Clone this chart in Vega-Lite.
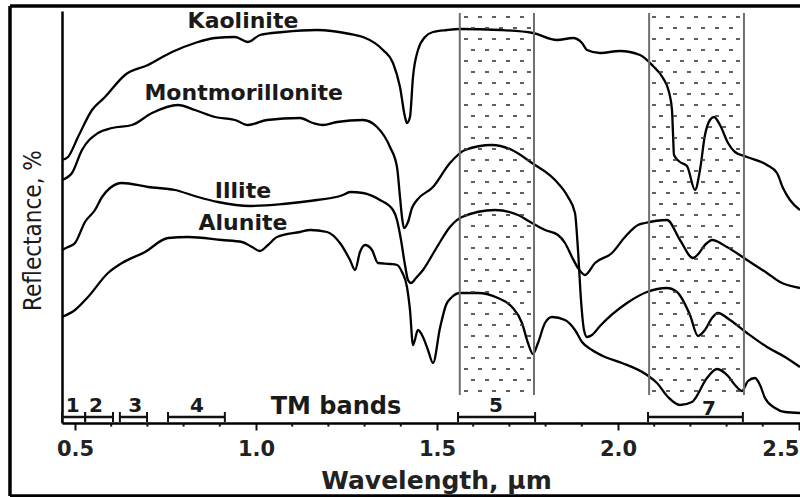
{
  "$schema": "https://vega.github.io/schema/vega-lite/v6.json",
  "width": 738,
  "height": 412,
  "padding": {"left": 62, "top": 11, "right": 0, "bottom": 74},
  "autosize": {"type": "none"},
  "background": "white",
  "config": {"view": {"stroke": null}, "axis": {"grid": false}},
  "datasets": {
    "spectra": [
      {"mineral":"Kaolinite","wavelength":0.4641,"reflectance":65.75},
      {"mineral":"Kaolinite","wavelength":0.4807,"reflectance":66.5},
      {"mineral":"Kaolinite","wavelength":0.5083,"reflectance":71.5},
      {"mineral":"Kaolinite","wavelength":0.547,"reflectance":78.25},
      {"mineral":"Kaolinite","wavelength":0.5829,"reflectance":81.5},
      {"mineral":"Kaolinite","wavelength":0.6381,"reflectance":87},
      {"mineral":"Kaolinite","wavelength":0.7017,"reflectance":89.5},
      {"mineral":"Kaolinite","wavelength":0.768,"reflectance":92.75},
      {"mineral":"Kaolinite","wavelength":0.8315,"reflectance":95},
      {"mineral":"Kaolinite","wavelength":0.8867,"reflectance":96.25},
      {"mineral":"Kaolinite","wavelength":0.942,"reflectance":96.5},
      {"mineral":"Kaolinite","wavelength":0.9779,"reflectance":95.25},
      {"mineral":"Kaolinite","wavelength":1.011,"reflectance":97},
      {"mineral":"Kaolinite","wavelength":1.0746,"reflectance":97.75},
      {"mineral":"Kaolinite","wavelength":1.1685,"reflectance":98.25},
      {"mineral":"Kaolinite","wavelength":1.2597,"reflectance":97.25},
      {"mineral":"Kaolinite","wavelength":1.2956,"reflectance":96.5},
      {"mineral":"Kaolinite","wavelength":1.3508,"reflectance":93.25},
      {"mineral":"Kaolinite","wavelength":1.3785,"reflectance":90},
      {"mineral":"Kaolinite","wavelength":1.3978,"reflectance":84},
      {"mineral":"Kaolinite","wavelength":1.4116,"reflectance":76.5},
      {"mineral":"Kaolinite","wavelength":1.4171,"reflectance":75},
      {"mineral":"Kaolinite","wavelength":1.4254,"reflectance":76.5},
      {"mineral":"Kaolinite","wavelength":1.4337,"reflectance":86.5},
      {"mineral":"Kaolinite","wavelength":1.4475,"reflectance":93.25},
      {"mineral":"Kaolinite","wavelength":1.4669,"reflectance":96.5},
      {"mineral":"Kaolinite","wavelength":1.489,"reflectance":97.75},
      {"mineral":"Kaolinite","wavelength":1.5276,"reflectance":98.25},
      {"mineral":"Kaolinite","wavelength":1.5635,"reflectance":98.5},
      {"mineral":"Kaolinite","wavelength":1.674,"reflectance":98.25},
      {"mineral":"Kaolinite","wavelength":1.7652,"reflectance":97.5},
      {"mineral":"Kaolinite","wavelength":1.8315,"reflectance":95.75},
      {"mineral":"Kaolinite","wavelength":1.8757,"reflectance":96.25},
      {"mineral":"Kaolinite","wavelength":1.9006,"reflectance":95},
      {"mineral":"Kaolinite","wavelength":1.9144,"reflectance":93.25},
      {"mineral":"Kaolinite","wavelength":1.9503,"reflectance":92.5},
      {"mineral":"Kaolinite","wavelength":2.0055,"reflectance":93},
      {"mineral":"Kaolinite","wavelength":2.0608,"reflectance":92},
      {"mineral":"Kaolinite","wavelength":2.0967,"reflectance":89.25},
      {"mineral":"Kaolinite","wavelength":2.1243,"reflectance":86.25},
      {"mineral":"Kaolinite","wavelength":2.1409,"reflectance":82.75},
      {"mineral":"Kaolinite","wavelength":2.1492,"reflectance":78.25},
      {"mineral":"Kaolinite","wavelength":2.1519,"reflectance":72.5},
      {"mineral":"Kaolinite","wavelength":2.1547,"reflectance":67},
      {"mineral":"Kaolinite","wavelength":2.1713,"reflectance":65.25},
      {"mineral":"Kaolinite","wavelength":2.1906,"reflectance":64.25},
      {"mineral":"Kaolinite","wavelength":2.2127,"reflectance":58.25},
      {"mineral":"Kaolinite","wavelength":2.2265,"reflectance":63.25},
      {"mineral":"Kaolinite","wavelength":2.2403,"reflectance":72},
      {"mineral":"Kaolinite","wavelength":2.2541,"reflectance":75.75},
      {"mineral":"Kaolinite","wavelength":2.2652,"reflectance":76.5},
      {"mineral":"Kaolinite","wavelength":2.2818,"reflectance":74.5},
      {"mineral":"Kaolinite","wavelength":2.3039,"reflectance":70},
      {"mineral":"Kaolinite","wavelength":2.3232,"reflectance":67.75},
      {"mineral":"Kaolinite","wavelength":2.3564,"reflectance":66.5},
      {"mineral":"Kaolinite","wavelength":2.4116,"reflectance":64.5},
      {"mineral":"Kaolinite","wavelength":2.4392,"reflectance":62.5},
      {"mineral":"Kaolinite","wavelength":2.4558,"reflectance":58.75},
      {"mineral":"Kaolinite","wavelength":2.4751,"reflectance":55.75},
      {"mineral":"Kaolinite","wavelength":2.5028,"reflectance":53.25},

      {"mineral":"Montmorillonite","wavelength":0.4641,"reflectance":60.75},
      {"mineral":"Montmorillonite","wavelength":0.4917,"reflectance":62.5},
      {"mineral":"Montmorillonite","wavelength":0.5193,"reflectance":68.25},
      {"mineral":"Montmorillonite","wavelength":0.5635,"reflectance":72.5},
      {"mineral":"Montmorillonite","wavelength":0.6022,"reflectance":73.75},
      {"mineral":"Montmorillonite","wavelength":0.6575,"reflectance":74.5},
      {"mineral":"Montmorillonite","wavelength":0.7127,"reflectance":77.5},
      {"mineral":"Montmorillonite","wavelength":0.7845,"reflectance":79.5},
      {"mineral":"Montmorillonite","wavelength":0.8315,"reflectance":78.25},
      {"mineral":"Montmorillonite","wavelength":0.8867,"reflectance":76.5},
      {"mineral":"Montmorillonite","wavelength":0.942,"reflectance":75.75},
      {"mineral":"Montmorillonite","wavelength":0.9779,"reflectance":74.5},
      {"mineral":"Montmorillonite","wavelength":1.0304,"reflectance":75.75},
      {"mineral":"Montmorillonite","wavelength":1.1215,"reflectance":76.25},
      {"mineral":"Montmorillonite","wavelength":1.1575,"reflectance":75},
      {"mineral":"Montmorillonite","wavelength":1.1851,"reflectance":74.5},
      {"mineral":"Montmorillonite","wavelength":1.2238,"reflectance":75.25},
      {"mineral":"Montmorillonite","wavelength":1.2956,"reflectance":75.75},
      {"mineral":"Montmorillonite","wavelength":1.3343,"reflectance":74},
      {"mineral":"Montmorillonite","wavelength":1.3702,"reflectance":69},
      {"mineral":"Montmorillonite","wavelength":1.3895,"reflectance":64},
      {"mineral":"Montmorillonite","wavelength":1.3978,"reflectance":56.5},
      {"mineral":"Montmorillonite","wavelength":1.4033,"reflectance":51.5},
      {"mineral":"Montmorillonite","wavelength":1.4088,"reflectance":48.75},
      {"mineral":"Montmorillonite","wavelength":1.4199,"reflectance":50.25},
      {"mineral":"Montmorillonite","wavelength":1.4309,"reflectance":53.75},
      {"mineral":"Montmorillonite","wavelength":1.4448,"reflectance":55.75},
      {"mineral":"Montmorillonite","wavelength":1.489,"reflectance":59},
      {"mineral":"Montmorillonite","wavelength":1.5359,"reflectance":65},
      {"mineral":"Montmorillonite","wavelength":1.5773,"reflectance":68.25},
      {"mineral":"Montmorillonite","wavelength":1.6519,"reflectance":69.5},
      {"mineral":"Montmorillonite","wavelength":1.7072,"reflectance":68.25},
      {"mineral":"Montmorillonite","wavelength":1.7624,"reflectance":65},
      {"mineral":"Montmorillonite","wavelength":1.826,"reflectance":60.75},
      {"mineral":"Montmorillonite","wavelength":1.8619,"reflectance":56.5},
      {"mineral":"Montmorillonite","wavelength":1.8812,"reflectance":52.5},
      {"mineral":"Montmorillonite","wavelength":1.8895,"reflectance":43.25},
      {"mineral":"Montmorillonite","wavelength":1.8978,"reflectance":30.75},
      {"mineral":"Montmorillonite","wavelength":1.9061,"reflectance":23.25},
      {"mineral":"Montmorillonite","wavelength":1.9144,"reflectance":21.5},
      {"mineral":"Montmorillonite","wavelength":1.9282,"reflectance":22},
      {"mineral":"Montmorillonite","wavelength":1.9503,"reflectance":24.25},
      {"mineral":"Montmorillonite","wavelength":2.0249,"reflectance":30},
      {"mineral":"Montmorillonite","wavelength":2.0801,"reflectance":32.75},
      {"mineral":"Montmorillonite","wavelength":2.1354,"reflectance":33.75},
      {"mineral":"Montmorillonite","wavelength":2.163,"reflectance":32.75},
      {"mineral":"Montmorillonite","wavelength":2.1989,"reflectance":27},
      {"mineral":"Montmorillonite","wavelength":2.221,"reflectance":21.75},
      {"mineral":"Montmorillonite","wavelength":2.2403,"reflectance":23.25},
      {"mineral":"Montmorillonite","wavelength":2.2597,"reflectance":26.25},
      {"mineral":"Montmorillonite","wavelength":2.2762,"reflectance":27.5},
      {"mineral":"Montmorillonite","wavelength":2.3094,"reflectance":25.75},
      {"mineral":"Montmorillonite","wavelength":2.3564,"reflectance":22.5},
      {"mineral":"Montmorillonite","wavelength":2.4116,"reflectance":19},
      {"mineral":"Montmorillonite","wavelength":2.4613,"reflectance":16.5},
      {"mineral":"Montmorillonite","wavelength":2.5028,"reflectance":14},

      {"mineral":"Illite","wavelength":0.4641,"reflectance":43.25},
      {"mineral":"Illite","wavelength":0.4807,"reflectance":44},
      {"mineral":"Illite","wavelength":0.5,"reflectance":45},
      {"mineral":"Illite","wavelength":0.5276,"reflectance":50.25},
      {"mineral":"Illite","wavelength":0.5552,"reflectance":53.25},
      {"mineral":"Illite","wavelength":0.5746,"reflectance":56.5},
      {"mineral":"Illite","wavelength":0.5967,"reflectance":58.75},
      {"mineral":"Illite","wavelength":0.6298,"reflectance":60},
      {"mineral":"Illite","wavelength":0.7017,"reflectance":59},
      {"mineral":"Illite","wavelength":0.7762,"reflectance":58.25},
      {"mineral":"Illite","wavelength":0.8398,"reflectance":56.5},
      {"mineral":"Illite","wavelength":0.895,"reflectance":55.25},
      {"mineral":"Illite","wavelength":0.9834,"reflectance":54.25},
      {"mineral":"Illite","wavelength":1.0746,"reflectance":54.75},
      {"mineral":"Illite","wavelength":1.1685,"reflectance":55.75},
      {"mineral":"Illite","wavelength":1.2403,"reflectance":57},
      {"mineral":"Illite","wavelength":1.2597,"reflectance":57.75},
      {"mineral":"Illite","wavelength":1.2956,"reflectance":57.5},
      {"mineral":"Illite","wavelength":1.3425,"reflectance":55.75},
      {"mineral":"Illite","wavelength":1.3785,"reflectance":53.25},
      {"mineral":"Illite","wavelength":1.3895,"reflectance":50.75},
      {"mineral":"Illite","wavelength":1.4006,"reflectance":45.75},
      {"mineral":"Illite","wavelength":1.4116,"reflectance":39.5},
      {"mineral":"Illite","wavelength":1.4199,"reflectance":35.75},
      {"mineral":"Illite","wavelength":1.4282,"reflectance":35},
      {"mineral":"Illite","wavelength":1.442,"reflectance":36.25},
      {"mineral":"Illite","wavelength":1.4613,"reflectance":38.25},
      {"mineral":"Illite","wavelength":1.5,"reflectance":44},
      {"mineral":"Illite","wavelength":1.5359,"reflectance":49},
      {"mineral":"Illite","wavelength":1.569,"reflectance":51.5},
      {"mineral":"Illite","wavelength":1.6602,"reflectance":53.25},
      {"mineral":"Illite","wavelength":1.7238,"reflectance":52},
      {"mineral":"Illite","wavelength":1.7624,"reflectance":50},
      {"mineral":"Illite","wavelength":1.7983,"reflectance":48.25},
      {"mineral":"Illite","wavelength":1.8343,"reflectance":47},
      {"mineral":"Illite","wavelength":1.8536,"reflectance":45},
      {"mineral":"Illite","wavelength":1.8729,"reflectance":41.5},
      {"mineral":"Illite","wavelength":1.8895,"reflectance":38.75},
      {"mineral":"Illite","wavelength":1.9088,"reflectance":37},
      {"mineral":"Illite","wavelength":1.9365,"reflectance":40},
      {"mineral":"Illite","wavelength":1.9834,"reflectance":42.5},
      {"mineral":"Illite","wavelength":2.0193,"reflectance":46.5},
      {"mineral":"Illite","wavelength":2.0552,"reflectance":49.5},
      {"mineral":"Illite","wavelength":2.0746,"reflectance":50},
      {"mineral":"Illite","wavelength":2.1354,"reflectance":50.75},
      {"mineral":"Illite","wavelength":2.1713,"reflectance":45.75},
      {"mineral":"Illite","wavelength":2.2072,"reflectance":41.25},
      {"mineral":"Illite","wavelength":2.2459,"reflectance":45},
      {"mineral":"Illite","wavelength":2.2597,"reflectance":45.75},
      {"mineral":"Illite","wavelength":2.3011,"reflectance":44},
      {"mineral":"Illite","wavelength":2.3564,"reflectance":40.75},
      {"mineral":"Illite","wavelength":2.4116,"reflectance":37.5},
      {"mineral":"Illite","wavelength":2.4475,"reflectance":35.25},
      {"mineral":"Illite","wavelength":2.5028,"reflectance":33.75},

      {"mineral":"Alunite","wavelength":0.4641,"reflectance":26.5},
      {"mineral":"Alunite","wavelength":0.5,"reflectance":28.25},
      {"mineral":"Alunite","wavelength":0.5359,"reflectance":31.5},
      {"mineral":"Alunite","wavelength":0.5912,"reflectance":37.5},
      {"mineral":"Alunite","wavelength":0.6298,"reflectance":40},
      {"mineral":"Alunite","wavelength":0.6934,"reflectance":42.75},
      {"mineral":"Alunite","wavelength":0.7569,"reflectance":46.25},
      {"mineral":"Alunite","wavelength":0.8122,"reflectance":46.5},
      {"mineral":"Alunite","wavelength":0.9061,"reflectance":45.75},
      {"mineral":"Alunite","wavelength":0.9613,"reflectance":45.25},
      {"mineral":"Alunite","wavelength":0.989,"reflectance":44},
      {"mineral":"Alunite","wavelength":1.011,"reflectance":43},
      {"mineral":"Alunite","wavelength":1.0331,"reflectance":44.5},
      {"mineral":"Alunite","wavelength":1.058,"reflectance":46.5},
      {"mineral":"Alunite","wavelength":1.1215,"reflectance":47.75},
      {"mineral":"Alunite","wavelength":1.1492,"reflectance":48.25},
      {"mineral":"Alunite","wavelength":1.1961,"reflectance":47.75},
      {"mineral":"Alunite","wavelength":1.232,"reflectance":45},
      {"mineral":"Alunite","wavelength":1.2597,"reflectance":40.75},
      {"mineral":"Alunite","wavelength":1.2735,"reflectance":38.25},
      {"mineral":"Alunite","wavelength":1.2873,"reflectance":42.75},
      {"mineral":"Alunite","wavelength":1.3011,"reflectance":44.5},
      {"mineral":"Alunite","wavelength":1.3204,"reflectance":43.25},
      {"mineral":"Alunite","wavelength":1.337,"reflectance":40},
      {"mineral":"Alunite","wavelength":1.3702,"reflectance":39.75},
      {"mineral":"Alunite","wavelength":1.3895,"reflectance":39.5},
      {"mineral":"Alunite","wavelength":1.4033,"reflectance":37.75},
      {"mineral":"Alunite","wavelength":1.4171,"reflectance":34},
      {"mineral":"Alunite","wavelength":1.4254,"reflectance":28.25},
      {"mineral":"Alunite","wavelength":1.4337,"reflectance":19.5},
      {"mineral":"Alunite","wavelength":1.4475,"reflectance":23.25},
      {"mineral":"Alunite","wavelength":1.4613,"reflectance":21.5},
      {"mineral":"Alunite","wavelength":1.4751,"reflectance":18.25},
      {"mineral":"Alunite","wavelength":1.489,"reflectance":15},
      {"mineral":"Alunite","wavelength":1.5083,"reflectance":23.75},
      {"mineral":"Alunite","wavelength":1.5249,"reflectance":29.5},
      {"mineral":"Alunite","wavelength":1.5414,"reflectance":31.5},
      {"mineral":"Alunite","wavelength":1.5635,"reflectance":32.5},
      {"mineral":"Alunite","wavelength":1.6133,"reflectance":32.5},
      {"mineral":"Alunite","wavelength":1.6685,"reflectance":31.25},
      {"mineral":"Alunite","wavelength":1.7072,"reflectance":29},
      {"mineral":"Alunite","wavelength":1.7348,"reflectance":25},
      {"mineral":"Alunite","wavelength":1.7514,"reflectance":20},
      {"mineral":"Alunite","wavelength":1.7652,"reflectance":17.25},
      {"mineral":"Alunite","wavelength":1.779,"reflectance":20},
      {"mineral":"Alunite","wavelength":1.7983,"reflectance":25},
      {"mineral":"Alunite","wavelength":1.8177,"reflectance":26.5},
      {"mineral":"Alunite","wavelength":1.8536,"reflectance":25.75},
      {"mineral":"Alunite","wavelength":1.8812,"reflectance":23.25},
      {"mineral":"Alunite","wavelength":1.9006,"reflectance":20.25},
      {"mineral":"Alunite","wavelength":1.9282,"reflectance":18.25},
      {"mineral":"Alunite","wavelength":1.9641,"reflectance":16.5},
      {"mineral":"Alunite","wavelength":2.011,"reflectance":15},
      {"mineral":"Alunite","wavelength":2.0801,"reflectance":12},
      {"mineral":"Alunite","wavelength":2.1077,"reflectance":10},
      {"mineral":"Alunite","wavelength":2.1381,"reflectance":6.5},
      {"mineral":"Alunite","wavelength":2.1713,"reflectance":4.5},
      {"mineral":"Alunite","wavelength":2.2044,"reflectance":5.25},
      {"mineral":"Alunite","wavelength":2.2459,"reflectance":11.25},
      {"mineral":"Alunite","wavelength":2.2735,"reflectance":13.5},
      {"mineral":"Alunite","wavelength":2.3039,"reflectance":11.75},
      {"mineral":"Alunite","wavelength":2.3232,"reflectance":9.5},
      {"mineral":"Alunite","wavelength":2.3425,"reflectance":8},
      {"mineral":"Alunite","wavelength":2.3591,"reflectance":10.5},
      {"mineral":"Alunite","wavelength":2.3785,"reflectance":11.25},
      {"mineral":"Alunite","wavelength":2.3923,"reflectance":9.5},
      {"mineral":"Alunite","wavelength":2.4061,"reflectance":6.25},
      {"mineral":"Alunite","wavelength":2.4337,"reflectance":3.75},
      {"mineral":"Alunite","wavelength":2.4613,"reflectance":2.75},
      {"mineral":"Alunite","wavelength":2.5028,"reflectance":2.5}
    ],
    "bandEdges": [
      {"wavelength": 1.563}, {"wavelength": 1.768},
      {"wavelength": 2.086}, {"wavelength": 2.348}
    ],
    "dots": [
      {"xs": [1.5801, 1.6188, 1.6575, 1.6961, 1.7348],
       "ys": [101.5, 96, 90.5, 85, 79.5, 74, 68.5, 63, 57.5, 52, 46.5, 41, 35.5, 30, 24.5, 19, 13.5, 8]},
      {"xs": [1.5994, 1.6381, 1.6768, 1.7155, 1.7541],
       "ys": [98.75, 93.25, 87.75, 82.25, 76.75, 71.25, 65.75, 60.25, 54.75, 49.25, 43.75, 38.25, 32.75, 27.25, 21.75, 16.25, 10.75]},
      {"xs": [2.0994, 2.1381, 2.1768, 2.2155, 2.2541, 2.2928, 2.3315],
       "ys": [101.5, 96, 90.5, 85, 79.5, 74, 68.5, 63, 57.5, 52, 46.5, 41, 35.5, 30, 24.5, 19, 13.5, 8]},
      {"xs": [2.1188, 2.1575, 2.1961, 2.2348, 2.2735, 2.3122],
       "ys": [98.75, 93.25, 87.75, 82.25, 76.75, 71.25, 65.75, 60.25, 54.75, 49.25, 43.75, 38.25, 32.75, 27.25, 21.75, 16.25, 10.75]}
    ],
    "tmBands": [
      {"band": "1", "start": 0.4641, "end": 0.528},
      {"band": "2", "start": 0.528, "end": 0.605},
      {"band": "3", "start": 0.624, "end": 0.699},
      {"band": "4", "start": 0.757, "end": 0.914},
      {"band": "5", "start": 1.558, "end": 1.771},
      {"band": "7", "start": 2.083, "end": 2.345}
    ],
    "minorTicks": [
      {"wavelength": 0.6}, {"wavelength": 0.7}, {"wavelength": 0.8}, {"wavelength": 0.9},
      {"wavelength": 1.1}, {"wavelength": 1.2}, {"wavelength": 1.3}, {"wavelength": 1.4},
      {"wavelength": 1.6}, {"wavelength": 1.7}, {"wavelength": 1.8}, {"wavelength": 1.9},
      {"wavelength": 2.1}, {"wavelength": 2.2}, {"wavelength": 2.3}, {"wavelength": 2.4}
    ],
    "curveLabels": [
      {"text": "Kaolinite", "wavelength": 0.964, "reflectance": 100.5},
      {"text": "Montmorillonite", "wavelength": 0.966, "reflectance": 82.5},
      {"text": "Illite", "wavelength": 0.964, "reflectance": 58},
      {"text": "Alunite", "wavelength": 0.964, "reflectance": 50}
    ],
    "bandLabels": [
      {"text": "1", "wavelength": 0.494, "reflectance": 4.25},
      {"text": "2", "wavelength": 0.558, "reflectance": 4.25},
      {"text": "3", "wavelength": 0.666, "reflectance": 4.25},
      {"text": "4", "wavelength": 0.837, "reflectance": 4.25},
      {"text": "5", "wavelength": 1.663, "reflectance": 4.25},
      {"text": "7", "wavelength": 2.251, "reflectance": 3.5}
    ]
  },
  "layer": [
    {
      "data": {"name": "spectra"},
      "mark": {"type": "line", "color": "black", "strokeWidth": 2.3, "interpolate": "monotone"},
      "encoding": {
        "x": {
          "field": "wavelength", "type": "quantitative",
          "scale": {"domain": [0.4641, 2.5028], "nice": false, "zero": false},
          "axis": {
            "values": [0.5, 1, 1.5, 2, 2.5], "format": ".1f", "grid": false,
            "domain": true, "domainColor": "black", "domainWidth": 2.5,
            "tickSize": 7, "tickWidth": 2, "tickColor": "#111",
            "labelFont": "DejaVu Sans", "labelFontWeight": "bold", "labelFontSize": 21,
            "labelColor": "#222", "labelPadding": 8, "labelFlush": 5, "labelOverlap": false,
            "title": "Wavelength, µm", "titleFont": "DejaVu Sans", "titleFontSize": 25,
            "titleFontWeight": "bold", "titleColor": "#222", "titlePadding": 9, "titleX": 374
          }
        },
        "y": {
          "field": "reflectance", "type": "quantitative",
          "scale": {"domain": [0, 103], "nice": false, "zero": false},
          "axis": {
            "grid": false, "ticks": false, "labels": false,
            "domain": true, "domainColor": "black", "domainWidth": 2.5,
            "title": "Reflectance, %", "titleFont": "Liberation Sans Narrow, DejaVu Sans Condensed, sans-serif",
            "titleFontSize": 24, "titleFontWeight": "normal", "titleColor": "#1a1a1a",
            "titlePadding": 17, "titleY": 219
          }
        },
        "detail": {"field": "mineral", "type": "nominal"}
      }
    },
    {
      "data": {"values": [{"edge": "left"}]},
      "mark": {"type": "rule", "color": "black", "strokeWidth": 3.5},
      "encoding": {
        "x": {"datum": 0.3204, "type": "quantitative"},
        "y": {"datum": -18.25, "type": "quantitative"},
        "y2": {"datum": 104.25}
      }
    },
    {
      "data": {"values": [{"edge": "top"}]},
      "mark": {"type": "rule", "color": "black", "strokeWidth": 3.5},
      "encoding": {
        "x": {"datum": 0.3204, "type": "quantitative"},
        "x2": {"datum": 2.5028},
        "y": {"datum": 104.25, "type": "quantitative"}
      }
    },
    {
      "data": {"values": [{"edge": "bottom"}]},
      "mark": {"type": "rule", "color": "black", "strokeWidth": 3.5},
      "encoding": {
        "x": {"datum": 0.3204, "type": "quantitative"},
        "x2": {"datum": 2.5028},
        "y": {"datum": -18.25, "type": "quantitative"}
      }
    },
    {
      "data": {"name": "bandEdges"},
      "mark": {"type": "rule", "color": "#6f6f6f", "strokeWidth": 2},
      "encoding": {
        "x": {"field": "wavelength", "type": "quantitative"},
        "y": {"datum": 7, "type": "quantitative"},
        "y2": {"datum": 102.5}
      }
    },
    {
      "data": {"name": "dots"},
      "transform": [
        {"flatten": ["xs"], "as": ["wavelength"]},
        {"flatten": ["ys"], "as": ["reflectance"]}
      ],
      "mark": {"type": "point", "filled": true, "shape": "M-1,-0.45H1V0.45H-1Z", "size": 16, "color": "#3a3a3a", "opacity": 0.9},
      "encoding": {
        "x": {"field": "wavelength", "type": "quantitative"},
        "y": {"field": "reflectance", "type": "quantitative"}
      }
    },
    {
      "data": {"name": "tmBands"},
      "mark": {"type": "rule", "color": "#111", "strokeWidth": 2.5},
      "encoding": {
        "x": {"field": "start", "type": "quantitative"},
        "x2": {"field": "end"},
        "y": {"datum": 1.5, "type": "quantitative"}
      }
    },
    {
      "data": {"name": "tmBands"},
      "transform": [{"fold": ["start", "end"], "as": ["side", "wavelength"]}],
      "mark": {"type": "rule", "color": "#111", "strokeWidth": 2},
      "encoding": {
        "x": {"field": "wavelength", "type": "quantitative"},
        "y": {"datum": 0.25, "type": "quantitative"},
        "y2": {"datum": 2.75}
      }
    },
    {
      "data": {"name": "minorTicks"},
      "mark": {"type": "rule", "color": "#111", "strokeWidth": 2},
      "encoding": {
        "x": {"field": "wavelength", "type": "quantitative"},
        "y": {"datum": 0, "type": "quantitative"},
        "y2": {"datum": -0.9}
      }
    },
    {
      "data": {"name": "curveLabels"},
      "mark": {"type": "text", "font": "DejaVu Sans", "fontWeight": "bold", "fontSize": 22, "color": "#1a1a1a", "align": "center", "baseline": "middle"},
      "encoding": {
        "x": {"field": "wavelength", "type": "quantitative"},
        "y": {"field": "reflectance", "type": "quantitative"},
        "text": {"field": "text"}
      }
    },
    {
      "data": {"name": "bandLabels"},
      "mark": {"type": "text", "font": "DejaVu Sans", "fontWeight": "bold", "fontSize": 20, "color": "#1a1a1a", "align": "center", "baseline": "middle"},
      "encoding": {
        "x": {"field": "wavelength", "type": "quantitative"},
        "y": {"field": "reflectance", "type": "quantitative"},
        "text": {"field": "text"}
      }
    },
    {
      "data": {"values": [{"text": "TM bands", "wavelength": 1.221, "reflectance": 4}]},
      "mark": {"type": "text", "font": "DejaVu Sans", "fontWeight": "bold", "fontSize": 24, "color": "#1a1a1a", "align": "center", "baseline": "middle"},
      "encoding": {
        "x": {"field": "wavelength", "type": "quantitative"},
        "y": {"field": "reflectance", "type": "quantitative"},
        "text": {"field": "text"}
      }
    }
  ]
}
